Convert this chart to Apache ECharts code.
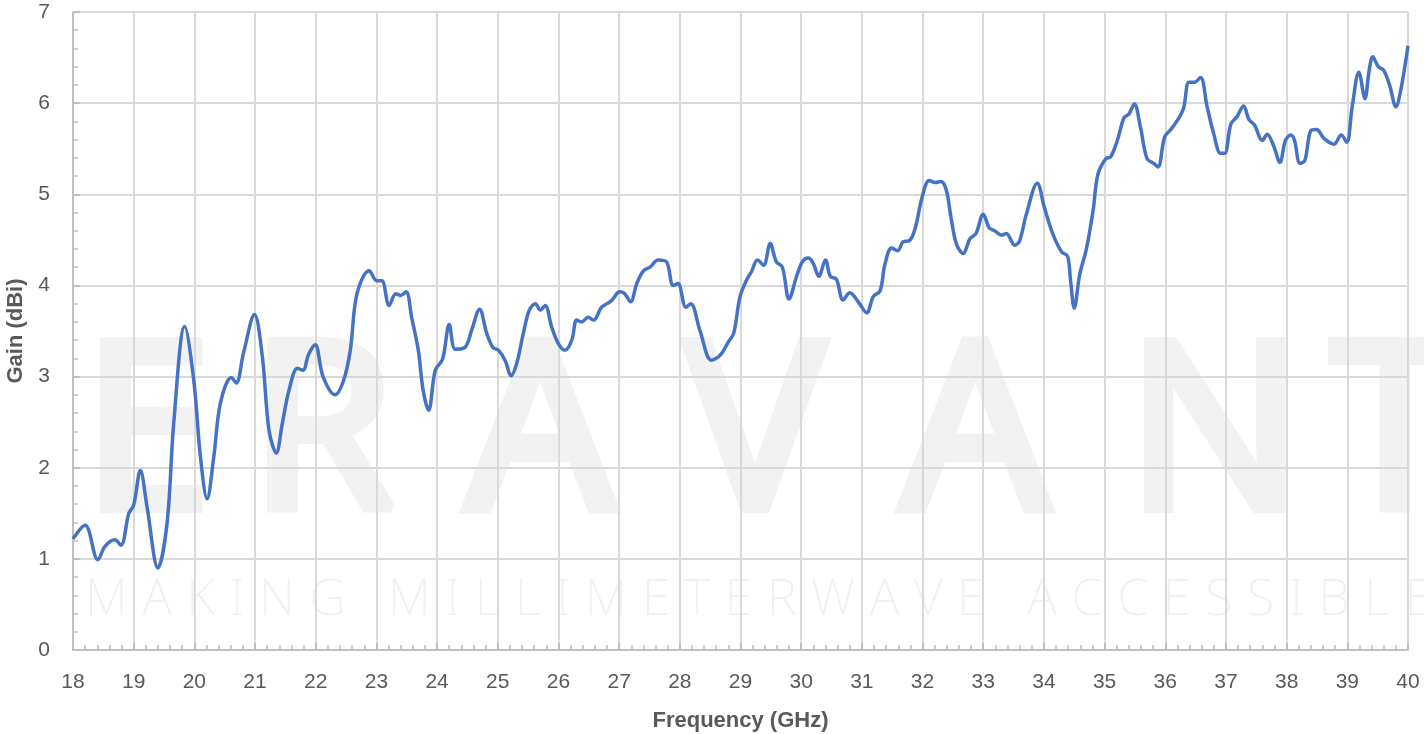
<!DOCTYPE html>
<html>
<head>
<meta charset="utf-8">
<script src="https://cdn.jsdelivr.net/npm/echarts@6/dist/echarts.min.js"></script>
<style>html,body{margin:0;padding:0;background:#fff}#c{width:1424px;height:734px}</style>
</head>
<body>
<div id="c"></div>
<script>
const freqs = [18.0,18.2,18.41,18.53,18.69,18.79,18.92,19.0,19.11,19.22,19.4,19.55,19.66,19.84,19.99,20.1,20.21,20.32,20.43,20.61,20.69,20.81,20.99,21.12,21.23,21.35,21.45,21.56,21.7,21.79,21.88,21.99,22.12,22.32,22.46,22.57,22.68,22.88,23.01,23.09,23.21,23.32,23.4,23.49,23.58,23.69,23.77,23.86,23.97,24.09,24.2,24.3,24.46,24.57,24.7,24.82,24.92,25.01,25.12,25.22,25.31,25.42,25.52,25.62,25.7,25.78,25.89,26.0,26.11,26.22,26.3,26.38,26.49,26.58,26.71,26.87,27.01,27.09,27.19,27.29,27.4,27.51,27.64,27.78,27.89,27.97,28.1,28.18,28.33,28.52,28.66,28.8,28.89,28.99,29.1,29.18,29.28,29.38,29.49,29.59,29.69,29.8,29.92,30.02,30.12,30.2,30.29,30.4,30.48,30.58,30.69,30.8,30.95,31.08,31.19,31.3,31.38,31.49,31.59,31.68,31.78,31.88,31.99,32.11,32.21,32.3,32.39,32.47,32.56,32.67,32.78,32.88,33.0,33.1,33.19,33.3,33.38,33.52,33.6,33.71,33.89,34.01,34.15,34.29,34.39,34.44,34.5,34.59,34.7,34.81,34.89,35.02,35.1,35.21,35.32,35.4,35.49,35.59,35.7,35.81,35.88,35.99,36.09,36.2,36.3,36.39,36.48,36.58,36.69,36.8,36.91,36.98,37.08,37.18,37.29,37.38,37.47,37.6,37.68,37.78,37.89,37.98,38.07,38.13,38.22,38.3,38.4,38.49,38.62,38.78,38.9,38.99,39.08,39.19,39.29,39.36,39.42,39.51,39.6,39.7,39.8,39.88,40.0];
const gains = [1.22,1.37,0.99,1.14,1.21,1.15,1.5,1.59,1.97,1.57,0.9,1.39,2.49,3.55,2.96,2.12,1.66,2.12,2.71,2.99,2.93,3.26,3.68,3.22,2.41,2.16,2.49,2.85,3.09,3.07,3.24,3.35,3.0,2.8,2.96,3.29,3.91,4.16,4.05,4.05,3.78,3.91,3.89,3.93,3.65,3.29,2.85,2.63,3.07,3.19,3.57,3.3,3.32,3.51,3.74,3.47,3.32,3.29,3.18,3.01,3.14,3.47,3.73,3.8,3.73,3.78,3.54,3.36,3.29,3.4,3.62,3.6,3.65,3.62,3.76,3.83,3.93,3.91,3.82,4.02,4.16,4.2,4.28,4.26,4.0,4.02,3.76,3.8,3.51,3.18,3.23,3.38,3.48,3.87,4.06,4.15,4.28,4.22,4.46,4.26,4.2,3.85,4.09,4.26,4.3,4.24,4.1,4.28,4.1,4.07,3.84,3.92,3.81,3.7,3.88,3.94,4.23,4.41,4.38,4.48,4.49,4.63,4.96,5.15,5.13,5.14,5.05,4.74,4.45,4.35,4.51,4.57,4.78,4.63,4.6,4.55,4.57,4.44,4.49,4.78,5.12,4.85,4.56,4.37,4.32,4.05,3.75,4.12,4.4,4.82,5.22,5.39,5.41,5.59,5.84,5.88,5.99,5.74,5.39,5.34,5.3,5.63,5.71,5.81,5.94,6.23,6.23,6.28,5.96,5.66,5.45,5.45,5.77,5.85,5.97,5.82,5.76,5.59,5.66,5.54,5.35,5.59,5.65,5.59,5.34,5.37,5.7,5.71,5.61,5.55,5.65,5.57,5.96,6.34,6.05,6.36,6.51,6.4,6.36,6.19,5.96,6.14,6.63];
const xTitle = 'Frequency (GHz)';
const yTitle = 'Gain (dBi)';
const wmMain = ['E','R','A','V','A','N','T'];
const wmSub = 'MAKING MILLIMETERWAVE ACCESSIBLE';

const chart = echarts.init(document.getElementById('c'));
const wmCenters = [147, 322, 540, 755, 975, 1215, 1395];
const graphics = [];
wmMain.forEach((ch, i) => {
  graphics.push({type:'text', x: wmCenters[i], y: 442, z: -10, silent: true,
    style:{text: ch, fill:'#f2f2f2', stroke:'#f2f2f2', lineWidth: 10,
      font:'normal 232px "Noto Sans"', textAlign:'center', textVerticalAlign:'middle'}});
});
// subtitle letters with uniform tracking
const subFont = '200 50px "Noto Sans"';
const cv = document.createElement('canvas').getContext('2d');
cv.font = subFont;
const ws = Array.from(wmSub).map(c => cv.measureText(c).width);
const sumW = ws.reduce((a, b) => a + b, 0);
const subLeft = 85, subRight = 1432;
const track = (subRight - subLeft - sumW) / (wmSub.length - 1);
let cx = subLeft;
for (let i = 0; i < wmSub.length; i++) {
  if (wmSub[i] !== ' ') {
    graphics.push({type:'text', x: cx + ws[i] / 2, y: 601, z: -10, silent: true,
      style:{text: wmSub[i], fill:'#f0f0f0', font: subFont, textAlign:'center', textVerticalAlign:'middle'}});
  }
  cx += ws[i] + track;
}

chart.setOption({
  animation: false,
  backgroundColor: '#fff',
  graphic: graphics,
  grid: {left: 73, right: 16, top: 12, bottom: 84, containLabel: false, outerBoundsMode: 'none'},
  xAxis: {
    type: 'value', min: 18, max: 40, interval: 1,
    name: xTitle, nameLocation: 'middle', nameGap: 60,
    nameTextStyle: {fontFamily: 'Liberation Sans', fontSize: 22, fontWeight: 'bold', color: '#595959'},
    axisLine: {show: true, lineStyle: {color: '#bfbfbf', width: 2}},
    axisTick: {show: true, inside: true, length: 7, lineStyle: {color: '#bfbfbf', width: 2}},
    minorTick: {show: true, splitNumber: 5, length: 5, lineStyle: {color: '#bfbfbf', width: 1.5}},
    axisLabel: {margin: 22, fontFamily: 'Liberation Sans', fontSize: 21, color: '#595959'},
    splitLine: {show: true, lineStyle: {color: '#d9d9d9', width: 2}}
  },
  yAxis: {
    type: 'value', min: 0, max: 7, interval: 1,
    name: yTitle, nameLocation: 'middle', nameGap: 46, nameRotate: 90,
    nameTextStyle: {fontFamily: 'Liberation Sans', fontSize: 22, fontWeight: 'bold', color: '#595959'},
    axisLine: {show: true, lineStyle: {color: '#bfbfbf', width: 2}},
    axisTick: {show: true, inside: true, length: 7, lineStyle: {color: '#bfbfbf', width: 2}},
    minorTick: {show: true, splitNumber: 5, length: 5, lineStyle: {color: '#bfbfbf', width: 1.5}},
    axisLabel: {margin: 23, fontFamily: 'Liberation Sans', fontSize: 21, color: '#595959'},
    splitLine: {show: true, lineStyle: {color: '#d9d9d9', width: 2}}
  },
  series: [{
    type: 'line', smooth: 0.35, showSymbol: false,
    data: freqs.map((f, i) => [f, gains[i]]),
    lineStyle: {color: '#4472C4', width: 3.5},
    itemStyle: {color: '#4472C4'}
  }]
});
</script>
</body>
</html>
